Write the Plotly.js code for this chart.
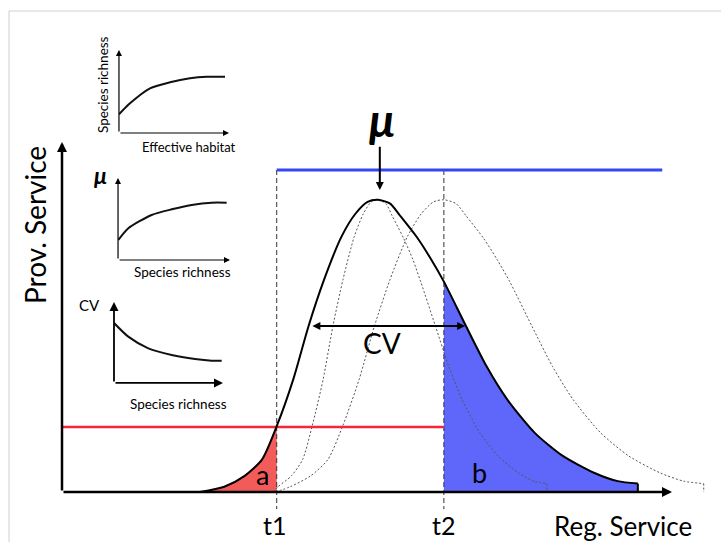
<!DOCTYPE html>
<html>
<head>
<meta charset="utf-8">
<script src="https://cdn.plot.ly/plotly-3.0.1.min.js"></script>
<style>html,body{margin:0;padding:0;background:#fff;}#chart{width:721px;height:542px;}</style>
</head>
<body>
<div id="chart"></div>
<script>
// ---- main chart data (Reg. Service on x, Prov. Service on y) ----
const regService = [22.6, 26.6, 29.95, 32.8, 35.2, 37.9, 40.4, 42.95, 45.8, 48.1, 50.1, 51.8, 53.8, 55.4, 58.3, 60.5, 62.6, 66.2, 69.6, 73.0, 77.5, 82.1, 87.2, 91.1, 94.4, 94.4];
const provService = [0, 1.5, 4.6, 9.3, 18.8, 32.1, 47.3, 60.6, 72.9, 79.5, 82.9, 83.5, 82.4, 79.0, 72.5, 66.5, 60.1, 47.5, 35.9, 26.4, 16.9, 10.3, 5.5, 3.1, 2.4, 0];
const narrowX = [34.6, 35.4, 37.6, 39.45, 41.0, 42.8, 44.4, 46.05, 47.9, 49.4, 50.7, 51.8, 53.1, 54.1, 56.0, 57.5, 58.8, 61.2, 63.4, 65.6, 68.5, 71.5, 74.8, 77.3, 79.5, 79.5];
const narrowY = [0, 1.5, 4.6, 9.3, 18.8, 32.1, 47.3, 60.6, 72.9, 79.5, 82.9, 83.5, 82.4, 79.0, 72.5, 66.5, 60.1, 47.5, 35.9, 26.4, 16.9, 10.3, 5.5, 3.1, 2.4, 0];
const shiftedX = [35.0, 37.4, 40.75, 43.6, 46.0, 48.7, 51.2, 53.75, 56.6, 58.9, 60.9, 62.6, 64.6, 66.2, 69.1, 71.3, 73.4, 77.0, 80.4, 83.8, 88.3, 92.9, 98.0, 101.9, 105.2, 105.2];
const shiftedY = [0, 1.5, 4.6, 9.3, 18.8, 32.1, 47.3, 60.6, 72.9, 79.5, 82.9, 83.5, 82.4, 79.0, 72.5, 66.5, 60.1, 47.5, 35.9, 26.4, 16.9, 10.3, 5.5, 3.1, 2.4, 0];
const t1 = 35.2, t2 = 62.6;
const lowThreshold = 18.6;   // red line
const highThreshold = 92;    // blue line
const blueEnd = 98.4;
const tickLabels = ["t1", "t2"];

// ---- inset data ----
const habitatX = [0, 1.0, 2.82, 4.64, 6.45, 7.97, 9.64];
const richnessY = [2.25, 3.58, 5.39, 6.11, 6.59, 6.78, 6.78];
const richX2 = [0.03, 0.92, 3.0, 4.8, 6.58, 8.36, 9.7];
const muY = [2.44, 3.87, 5.49, 6.18, 6.71, 6.99, 6.99];
const richX3 = [0.03, 1.31, 3.15, 5.29, 7.43, 8.96, 9.88];
const cvY = [7.37, 5.72, 4.28, 3.46, 2.96, 2.75, 2.75];

const FONT = "Lato, 'Open Sans', sans-serif";
const iT1 = regService.indexOf(t1), iT2 = regService.indexOf(t2);

const redFillX = regService.slice(0, iT1 + 1).concat([t1]);
const redFillY = provService.slice(0, iT1 + 1).concat([0]);
const blueFillX = regService.slice(iT2).concat([t2]);
const blueFillY = provService.slice(iT2).concat([0]);

const SPL = {shape: 'spline', smoothing: 0.7};

function curve(xs, ys, line) {
  // smooth body, straight closing drop to the axis
  return [
    {x: xs.slice(0, -1), y: ys.slice(0, -1), type: 'scatter', mode: 'lines', line: Object.assign({}, line, SPL)},
    {x: xs.slice(-2), y: ys.slice(-2), type: 'scatter', mode: 'lines', line: Object.assign({}, line)}
  ];
}

const dotted = {color: '#555', width: 1, dash: '2px,2px'};

const traces = [
  {x: redFillX, y: redFillY, type: 'scatter', mode: 'lines', fill: 'toself', fillcolor: '#f35b5b', line: {width: 0}, hoverinfo: 'skip'},
  {x: blueFillX, y: blueFillY, type: 'scatter', mode: 'lines', fill: 'toself', fillcolor: '#5f66fa', line: {width: 0}, hoverinfo: 'skip'}
].concat(
  curve(narrowX, narrowY, dotted),
  curve(shiftedX, shiftedY, dotted),
  [
    {x: [t1, t1], y: [highThreshold, -4.9], type: 'scatter', mode: 'lines', line: {color: '#333', width: 1, dash: '5px,3px'}},
    {x: [t2, t2], y: [highThreshold, -4.9], type: 'scatter', mode: 'lines', line: {color: '#333', width: 1, dash: '5px,3px'}},
    {x: [0, t2], y: [lowThreshold, lowThreshold], type: 'scatter', mode: 'lines', line: {color: '#f0283a', width: 2.5}},
    {x: [t1, blueEnd], y: [highThreshold, highThreshold], type: 'scatter', mode: 'lines', line: {color: '#3446f5', width: 3}}
  ],
  curve(regService, provService, {color: '#000', width: 2}),
  [
    {x: habitatX, y: richnessY, xaxis: 'x2', yaxis: 'y2', type: 'scatter', mode: 'lines', line: Object.assign({color: '#111', width: 2}, SPL)},
    {x: richX2, y: muY, xaxis: 'x3', yaxis: 'y3', type: 'scatter', mode: 'lines', line: Object.assign({color: '#111', width: 2}, SPL)},
    {x: richX3, y: cvY, xaxis: 'x4', yaxis: 'y4', type: 'scatter', mode: 'lines', line: Object.assign({color: '#111', width: 2}, SPL)}
  ]
);

function arrow(xref, yref, x, y, ax, ay, w, size, both) {
  return {xref: xref, yref: yref, axref: xref, ayref: yref, x: x, y: y, ax: ax, ay: ay,
    text: '', showarrow: true, arrowhead: 2, arrowsize: size, arrowwidth: w, arrowcolor: '#000',
    arrowside: both ? 'end+start' : 'end', startarrowhead: 2, startarrowsize: size, standoff: 0, startstandoff: 0};
}
function label(xref, yref, x, y, text, size, extra) {
  return Object.assign({xref: xref, yref: yref, x: x, y: y, text: text, showarrow: false,
    font: {family: FONT, size: size, color: '#000'}, xanchor: 'center', yanchor: 'middle'}, extra || {});
}

const annotations = [
  // main axes
  arrow('x', 'y', 0, 100, 0, 0, 2.5, 0.8),
  arrow('x', 'y', 100, 0, 0, 0, 2.5, 0.8),
  // mu arrow and CV double arrow
  arrow('x', 'y', 52.1, 86.3, 52.1, 99.1, 2, 0.8),
  arrow('x', 'y', 66.1, 47.4, 40.8, 47.4, 2, 0.8, true),
  // inset axes
  arrow('x2', 'y2', 0, 10, 0, 0, 1.2, 1),
  arrow('x2', 'y2', 10, 0, 0, 0, 1.2, 1),
  arrow('x3', 'y3', 0, 10, 0, 0, 1.2, 1),
  arrow('x3', 'y3', 10, 0, 0, 0, 1.2, 1),
  arrow('x4', 'y4', 0, 10, 0, 0, 1.8, 1),
  arrow('x4', 'y4', 10, 0, 0, 0, 1.8, 1),
  // main labels
  label('x', 'y', 52.5, 106.3, '<b><i>μ</i></b>', 46),
  label('x', 'y', 52.5, 42.6, 'CV', 28),
  label('x', 'y', 32.8, 4.9, 'a', 27),
  label('x', 'y', 68.5, 5.7, 'b', 27),
  label('x', 'y', t1 - 0.3, -9.4, tickLabels[0], 25),
  label('x', 'y', t2, -9.4, tickLabels[1], 25),
  label('x', 'y', 92.0, -9.7, 'Reg. Service', 26),
  label('x', 'y', -4.43, 76.3, 'Prov. Service', 28, {textangle: -90}),
  // inset labels
  label('paper', 'paper', 0.1429, 0.8432, 'Species richness', 13.5, {textangle: -90}),
  label('paper', 'paper', 0.2621, 0.7288, 'Effective habitat', 13),
  label('paper', 'paper', 0.1387, 0.6771, '<b><i>μ</i></b>', 23),
  label('paper', 'paper', 0.2538, 0.4982, 'Species richness', 13.5),
  label('paper', 'paper', 0.1248, 0.4373, 'CV', 15),
  label('paper', 'paper', 0.2469, 0.2546, 'Species richness', 13.5)
];

const hidden = {visible: false, fixedrange: true};
const layout = {
  width: 721, height: 542,
  margin: {l: 0, r: 0, t: 0, b: 0, pad: 0},
  paper_bgcolor: '#fff', plot_bgcolor: 'rgba(0,0,0,0)',
  showlegend: false,
  xaxis: Object.assign({domain: [0, 1], range: [-10.164, 108.033]}, hidden),
  yaxis: Object.assign({domain: [0, 1], range: [-14.286, 140.571]}, hidden),
  xaxis2: Object.assign({domain: [0.1650, 0.3176], range: [0, 10], anchor: 'y2'}, hidden),
  yaxis2: Object.assign({domain: [0.7546, 0.9077], range: [0, 10], anchor: 'x2'}, hidden),
  xaxis3: Object.assign({domain: [0.1637, 0.3190], range: [0, 10], anchor: 'y3'}, hidden),
  yaxis3: Object.assign({domain: [0.5203, 0.6716], range: [0, 10], anchor: 'x3'}, hidden),
  xaxis4: Object.assign({domain: [0.1581, 0.3093], range: [0, 10], anchor: 'y4'}, hidden),
  yaxis4: Object.assign({domain: [0.2934, 0.4428], range: [0, 10], anchor: 'x4'}, hidden),
  annotations: annotations,
  shapes: [
    {type: 'line', xref: 'paper', yref: 'paper', x0: 0.0125, x1: 1, y0: 0.9797, y1: 0.9797, line: {color: '#d0d0d0', width: 1}},
    {type: 'line', xref: 'paper', yref: 'paper', x0: 0.0125, x1: 0.0125, y0: 0, y1: 0.9797, line: {color: '#d0d0d0', width: 1}}
  ]
};

Plotly.newPlot('chart', traces, layout, {staticPlot: true, displayModeBar: false});
</script>
</body>
</html>
